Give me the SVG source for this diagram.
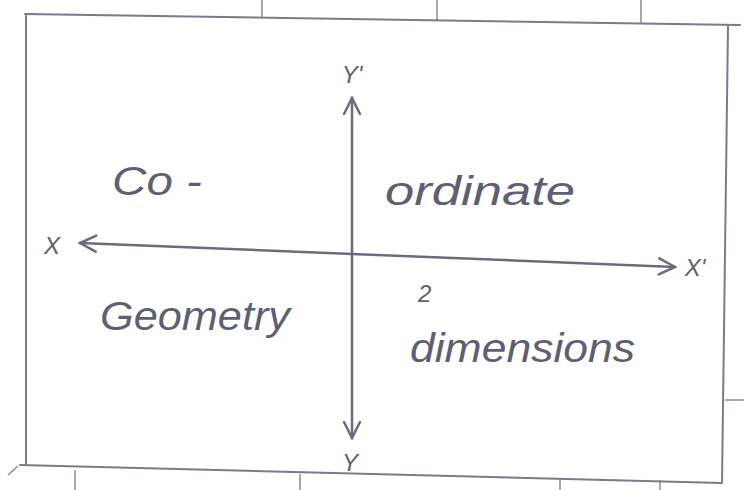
<svg xmlns="http://www.w3.org/2000/svg" width="744" height="490" viewBox="0 0 744 490">
<defs>
<style>
.pen{stroke:#6b6b7c;stroke-width:2.5;fill:none;stroke-linecap:round;stroke-linejoin:round}
.grid{stroke:#8a8a96;stroke-width:1.5;fill:none}
.lbl{font-family:"Liberation Sans","DejaVu Sans",sans-serif;fill:#5f5f72;font-style:italic}
.big{font-size:40px}
.ax{font-size:24px}
</style>
<marker id="ah" viewBox="0 0 20 20" refX="18" refY="10" markerWidth="20" markerHeight="20" markerUnits="userSpaceOnUse" orient="auto">
<path d="M2,2 L18,10 L2,18" stroke="#6b6b7c" stroke-width="2.5" fill="none" stroke-linecap="round"/>
</marker>
</defs>
<rect width="744" height="490" fill="#ffffff"/>
<g id="paper">
<path class="grid" d="M262,0 V18 M437,0 V20 M641,0 V24 M75,470 V490 M300,474 V490 M560,478 V490 M660,480 V490 M725,400 H744"/>
<path class="grid" d="M8,475 L18,466"/>
</g>
<g id="frame">
<path class="pen" style="stroke:#7a7a88;stroke-width:2" d="M25,14 L740,25 M26,14 L26,465 M20,465 L722,483 M728,25 L722,483"/>
</g>
<g id="connectors">
<line class="pen" x1="352" y1="250" x2="352" y2="98" marker-end="url(#ah)"/>
<line class="pen" x1="352" y1="250" x2="352" y2="438" marker-end="url(#ah)"/>
<line class="pen" x1="352" y1="254" x2="80" y2="243" marker-end="url(#ah)"/>
<line class="pen" x1="352" y1="254" x2="675" y2="267" marker-end="url(#ah)"/>
</g>
<g id="axis-labels">
<text class="lbl ax" x="52" y="254" text-anchor="middle">X</text>
<text class="lbl ax" x="695" y="276" text-anchor="middle">X'</text>
<text class="lbl ax" x="352" y="83" text-anchor="middle">Y'</text>
<text class="lbl ax" x="350" y="471" text-anchor="middle">Y</text>
</g>
<g id="quadrant-labels">
<text class="lbl big" x="112" y="195" textLength="90" lengthAdjust="spacingAndGlyphs">Co -</text>
<text class="lbl big" x="385" y="205" textLength="190" lengthAdjust="spacingAndGlyphs">ordinate</text>
<text class="lbl big" x="100" y="330" textLength="190" lengthAdjust="spacingAndGlyphs">Geometry</text>
<text class="lbl" style="font-size:24px" x="418" y="302">2</text>
<text class="lbl big" x="410" y="362" textLength="225" lengthAdjust="spacingAndGlyphs">dimensions</text>
</g>
</svg>
